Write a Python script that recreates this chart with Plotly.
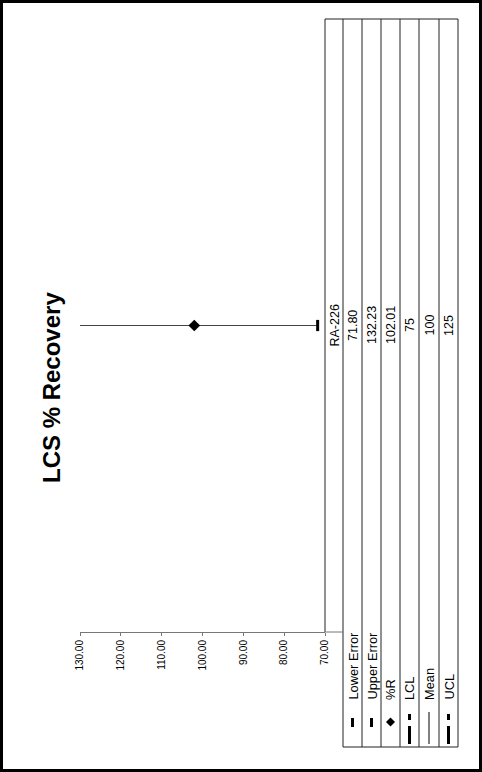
import plotly.graph_objects as go

# ---- data ----
categories = ["RA-226"]
lower_error = [71.80]
upper_error = [132.23]
pct_r = [102.01]
lcl = [75]
mean = [100]
ucl = [125]
series_names = ["Lower Error", "Upper Error", "%R", "LCL", "Mean", "UCL"]
tick_vals = [130, 120, 110, 100, 90, 80, 70]

W, H = 482, 772
X0, X1, Y0, Y1 = 80, 325, 19, 632  # plot area in pixels


def px(x):
    return (x - X0) / (X1 - X0)


def py(y):
    return (Y1 - y) / (Y1 - Y0)


FONT = "Liberation Sans, Arial, sans-serif"

fig = go.Figure()

# error line between lower and upper error
for c, lo, up in zip(categories, lower_error, upper_error):
    fig.add_trace(go.Scatter(x=[lo, up], y=[c, c], mode="lines",
                             line=dict(color="#444444", width=1),
                             showlegend=False, hoverinfo="skip"))

fig.add_trace(go.Scatter(x=lower_error, y=categories, mode="markers", name="Lower Error",
                         marker=dict(symbol="line-ns", size=8,
                                     line=dict(color="black", width=3))))
fig.add_trace(go.Scatter(x=upper_error, y=categories, mode="markers", name="Upper Error",
                         marker=dict(symbol="line-ns", size=8,
                                     line=dict(color="black", width=3))))
fig.add_trace(go.Scatter(x=pct_r, y=categories, mode="markers", name="%R",
                         marker=dict(symbol="diamond", size=9, color="black")))
fig.add_trace(go.Scatter(x=lcl, y=categories, mode="lines", name="LCL",
                         line=dict(color="black", width=3, dash="dash")))
fig.add_trace(go.Scatter(x=mean, y=categories, mode="lines", name="Mean",
                         line=dict(color="black", width=1)))
fig.add_trace(go.Scatter(x=ucl, y=categories, mode="lines", name="UCL",
                         line=dict(color="black", width=3, dash="dash")))

shapes = []
annotations = []


def line(x0, y0, x1, y1, color="#222222", width=1):
    shapes.append(dict(type="line", xref="paper", yref="paper",
                       x0=px(x0), y0=py(y0), x1=px(x1), y1=py(y1),
                       line=dict(color=color, width=width)))


# outer black frame
shapes.append(dict(type="rect", xref="paper", yref="paper",
                   x0=px(1.5), y0=py(1.5), x1=px(W - 1.5), y1=py(H - 1.5),
                   line=dict(color="black", width=3)))

# data table geometry
col_edges = [325, 343, 362, 381, 400, 419, 439, 458]
tbl_top, tbl_bottom = 19, 747

line(325, tbl_top, 325, Y1)
for xe in col_edges[1:]:
    line(xe, tbl_top, xe, tbl_bottom)
line(325, tbl_top, 458, tbl_top)
line(343, tbl_bottom, 458, tbl_bottom)
line(325, Y1, 343, Y1, color="#777777")

# category header
cat_y = (Y0 + Y1) / 2
for c in categories:
    annotations.append(dict(x=px((col_edges[0] + col_edges[1]) / 2), y=py(cat_y),
                            xref="paper", yref="paper", text=c, textangle=-90,
                            showarrow=False, xanchor="center", yanchor="middle",
                            font=dict(family=FONT, size=12.5, color="black")))

rows = [(lower_error, "{:.2f}"), (upper_error, "{:.2f}"), (pct_r, "{:.2f}"),
        (lcl, "{:g}"), (mean, "{:g}"), (ucl, "{:g}")]
for i, ((vals, fmt), name) in enumerate(zip(rows, series_names)):
    cx = (col_edges[i + 1] + col_edges[i + 2]) / 2
    for v in vals:
        annotations.append(dict(x=px(cx), y=py(cat_y), xref="paper", yref="paper",
                                text=fmt.format(v), textangle=-90, showarrow=False,
                                xanchor="center", yanchor="middle",
                                font=dict(family=FONT, size=12.5, color="black")))
    # row header label
    annotations.append(dict(x=px(cx), y=py(702), xref="paper", yref="paper",
                            text=name, textangle=-90, showarrow=False,
                            xanchor="center", yanchor="bottom",
                            font=dict(family=FONT, size=12.8, color="black")))
    # legend keys
    if name in ("Lower Error", "Upper Error"):
        line(cx, 718, cx, 727, color="black", width=3)
    elif name == "%R":
        d = 4.5
        path = (f"M {px(cx)} {py(722 - d)} L {px(cx + d)} {py(722)} "
                f"L {px(cx)} {py(722 + d)} L {px(cx - d)} {py(722)} Z")
        shapes.append(dict(type="path", xref="paper", yref="paper", path=path,
                           fillcolor="black", line=dict(color="black", width=0)))
    elif name == "Mean":
        line(cx, 712, cx, 744, color="black", width=1)
    else:
        line(cx, 714, cx, 720, color="black", width=3)
        line(cx, 726, cx, 744, color="black", width=3)

# title
annotations.append(dict(x=px(51), y=py(388), xref="paper", yref="paper",
                        text="<b>LCS % Recovery</b>", textangle=-90, showarrow=False,
                        xanchor="center", yanchor="middle",
                        font=dict(family=FONT, size=24, color="black")))

fig.update_layout(
    width=W, height=H,
    margin=dict(l=X0, r=W - X1, t=Y0, b=H - Y1, pad=0),
    paper_bgcolor="white", plot_bgcolor="white",
    showlegend=False,
    shapes=shapes, annotations=annotations,
    xaxis=dict(range=[130, 70], tickvals=tick_vals, tickformat=".2f",
               tickangle=-90, showgrid=False, zeroline=False,
               showline=True, linecolor="#777777", linewidth=1,
               ticks="outside", ticklen=3, tickcolor="#777777",
               tickfont=dict(family=FONT, size=10, color="black")),
    yaxis=dict(type="category", range=[-0.5, 0.5], showgrid=False,
               zeroline=False, showline=False, showticklabels=False, ticks=""),
)

fig.write_html("out.html",
               config={"displayModeBar": False},
               post_script="document.body.style.margin='0px';"
                           "document.body.style.overflow='hidden';")
